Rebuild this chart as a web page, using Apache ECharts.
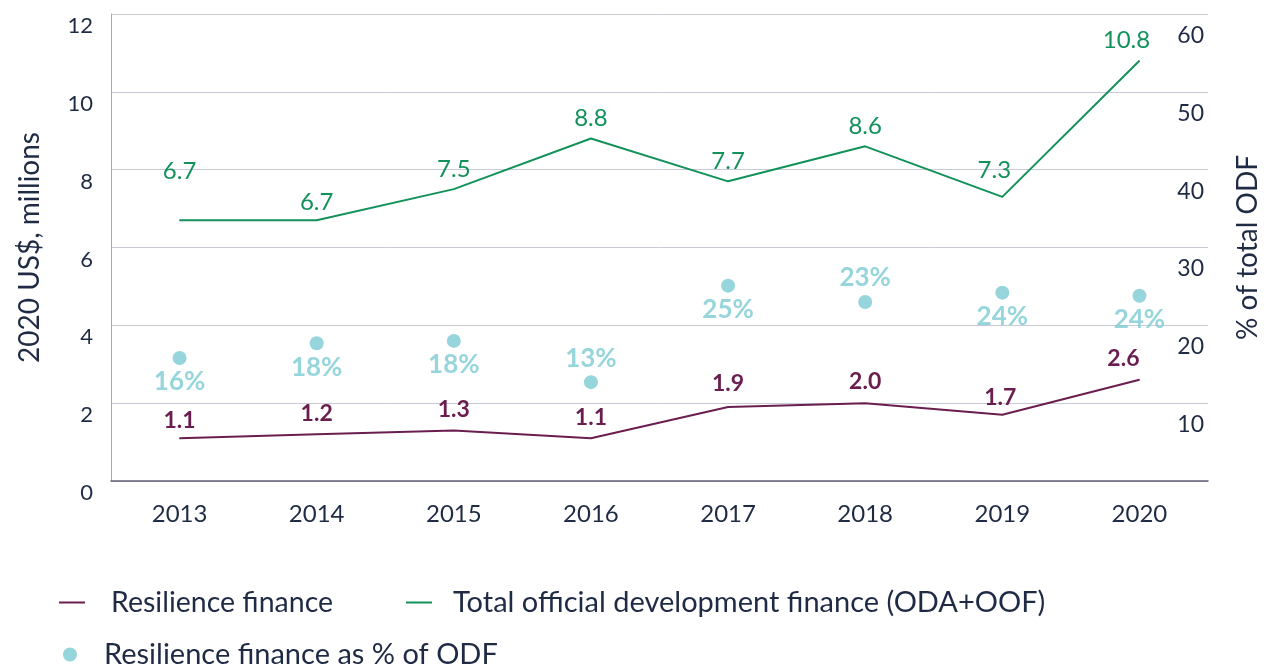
<!DOCTYPE html>
<html><head><meta charset="utf-8">
<script src="https://cdn.jsdelivr.net/npm/echarts@6/dist/echarts.min.js"></script>
<style>html,body{margin:0;padding:0;background:#fff}#c{width:1270px;height:666px}</style>
</head><body><div id="c"></div>
<script>
const years = ['2013','2014','2015','2016','2017','2018','2019','2020'];
const resilience = [1.1, 1.2, 1.3, 1.1, 1.9, 2.0, 1.7, 2.6];
const totalODF = [6.7, 6.7, 7.5, 8.8, 7.7, 8.6, 7.3, 10.8];
const pctODF = [15.8, 17.7, 18.0, 12.7, 25.1, 23.0, 24.2, 23.8];
const pctLabels = ['16%','18%','18%','13%','25%','23%','24%','24%'];

// styling (label placement per point)
const pctLabelPos = ['bottom','bottom','bottom','top','bottom','top','bottom','bottom'];
const greenLabelOffset = [[0,-28],[0,3],[0,1],[0,0],[0,0],[0,0],[-8,-6],[-13,0]];
const maroonLabelOffset = [[0,0],[0,-3],[0,-3],[0,-3],[0,-5],[0,-4],[-2,1],[-16,-3]];

const FONT = 'Lato';
const TXT = '#1f2a44';
const GREEN = '#12925a';
const MAROON = '#6a1e4f';
const TEAL = '#7ccbd2';

const chart = echarts.init(document.getElementById('c'));
chart.setOption({
  animation: false,
  textStyle: {fontFamily: FONT},
  grid: {left: 111, right: 59, top: 14, bottom: 185},
  legend: [
    {left: 54, top: 583, itemWidth: 26, itemHeight: 2, icon: 'rect',
     data: [{name: 'Resilience finance', textStyle: {padding: [0,0,0,21]}}],
     textStyle: {fontFamily: FONT, fontSize: 28.5, color: TXT}},
    {left: 401, top: 583, itemWidth: 26, itemHeight: 2, icon: 'rect',
     data: [{name: 'Total official development finance (ODA+OOF)', textStyle: {padding: [0,0,0,16]}}],
     textStyle: {fontFamily: FONT, fontSize: 29, color: TXT}},
    {left: 58, top: 635, itemWidth: 14, itemHeight: 14, icon: 'circle',
     data: [{name: 'Resilience finance as % of ODF', textStyle: {padding: [0,0,0,22]}}],
     textStyle: {fontFamily: FONT, fontSize: 29, color: TXT}}
  ],
  xAxis: {
    type: 'category', data: years, boundaryGap: true,
    axisLine: {lineStyle: {color: '#5f5f75', width: 1.5}},
    axisTick: {inside: true, length: 10, lineStyle: {color: '#5f5f75', width: 1.5}},
    axisLabel: {fontSize: 24, color: TXT, margin: 21}
  },
  yAxis: [
    {type: 'value', min: 0, max: 12, interval: 2,
     name: '2020 US$, millions', nameLocation: 'middle', nameRotate: 90, nameGap: 67,
     nameTextStyle: {fontSize: 28, color: TXT},
     axisLine: {show: true, lineStyle: {color: '#a8a8ba'}},
     axisTick: {show: false},
     splitLine: {lineStyle: {color: '#c9c9d6'}},
     axisLabel: {fontSize: 22, color: TXT, margin: 18, verticalAlign: 'top', padding: [1,0,0,0]}},
    {type: 'value', min: 0, max: 60, interval: 10, position: 'right',
     name: '% of total ODF', nameLocation: 'middle', nameRotate: 90, nameGap: 26,
     nameTextStyle: {fontSize: 28, color: TXT},
     axisLine: {show: false}, axisTick: {show: false}, splitLine: {show: false},
     axisLabel: {inside: true, showMinLabel: false, fontSize: 23, color: TXT, margin: 4,
                 verticalAlign: 'top', padding: [10,0,0,0]}}
  ],
  series: [
    {name: 'Resilience finance', type: 'line',
     data: resilience.map((v,i)=>({value: v, label: {offset: maroonLabelOffset[i]}})),
     color: MAROON, lineStyle: {width: 2, color: MAROON},
     symbol: 'circle', symbolSize: 1, showSymbol: true, itemStyle: {color: MAROON},
     label: {show: true, position: 'top', distance: 6, fontSize: 23, fontWeight: 'bold', color: MAROON,
             formatter: p => p.value.toFixed(1)}},
    {name: 'Total official development finance (ODA+OOF)', type: 'line',
     data: totalODF.map((v,i)=>({value: v, label: {offset: greenLabelOffset[i]}})),
     color: GREEN, lineStyle: {width: 2, color: GREEN},
     symbol: 'circle', symbolSize: 1, showSymbol: true, itemStyle: {color: GREEN},
     label: {show: true, position: 'top', distance: 8, fontSize: 24, color: GREEN,
             formatter: p => p.value.toFixed(1)}},
    {name: 'Resilience finance as % of ODF', type: 'scatter', yAxisIndex: 1,
     data: pctODF.map((v,i)=>({value: v, label: {position: pctLabelPos[i], formatter: pctLabels[i]}})),
     symbolSize: 14, color: TEAL, itemStyle: {color: TEAL},
     label: {show: true, distance: 4, fontSize: 26, fontWeight: 'bold', color: TEAL}}
  ]
});
</script></body></html>
